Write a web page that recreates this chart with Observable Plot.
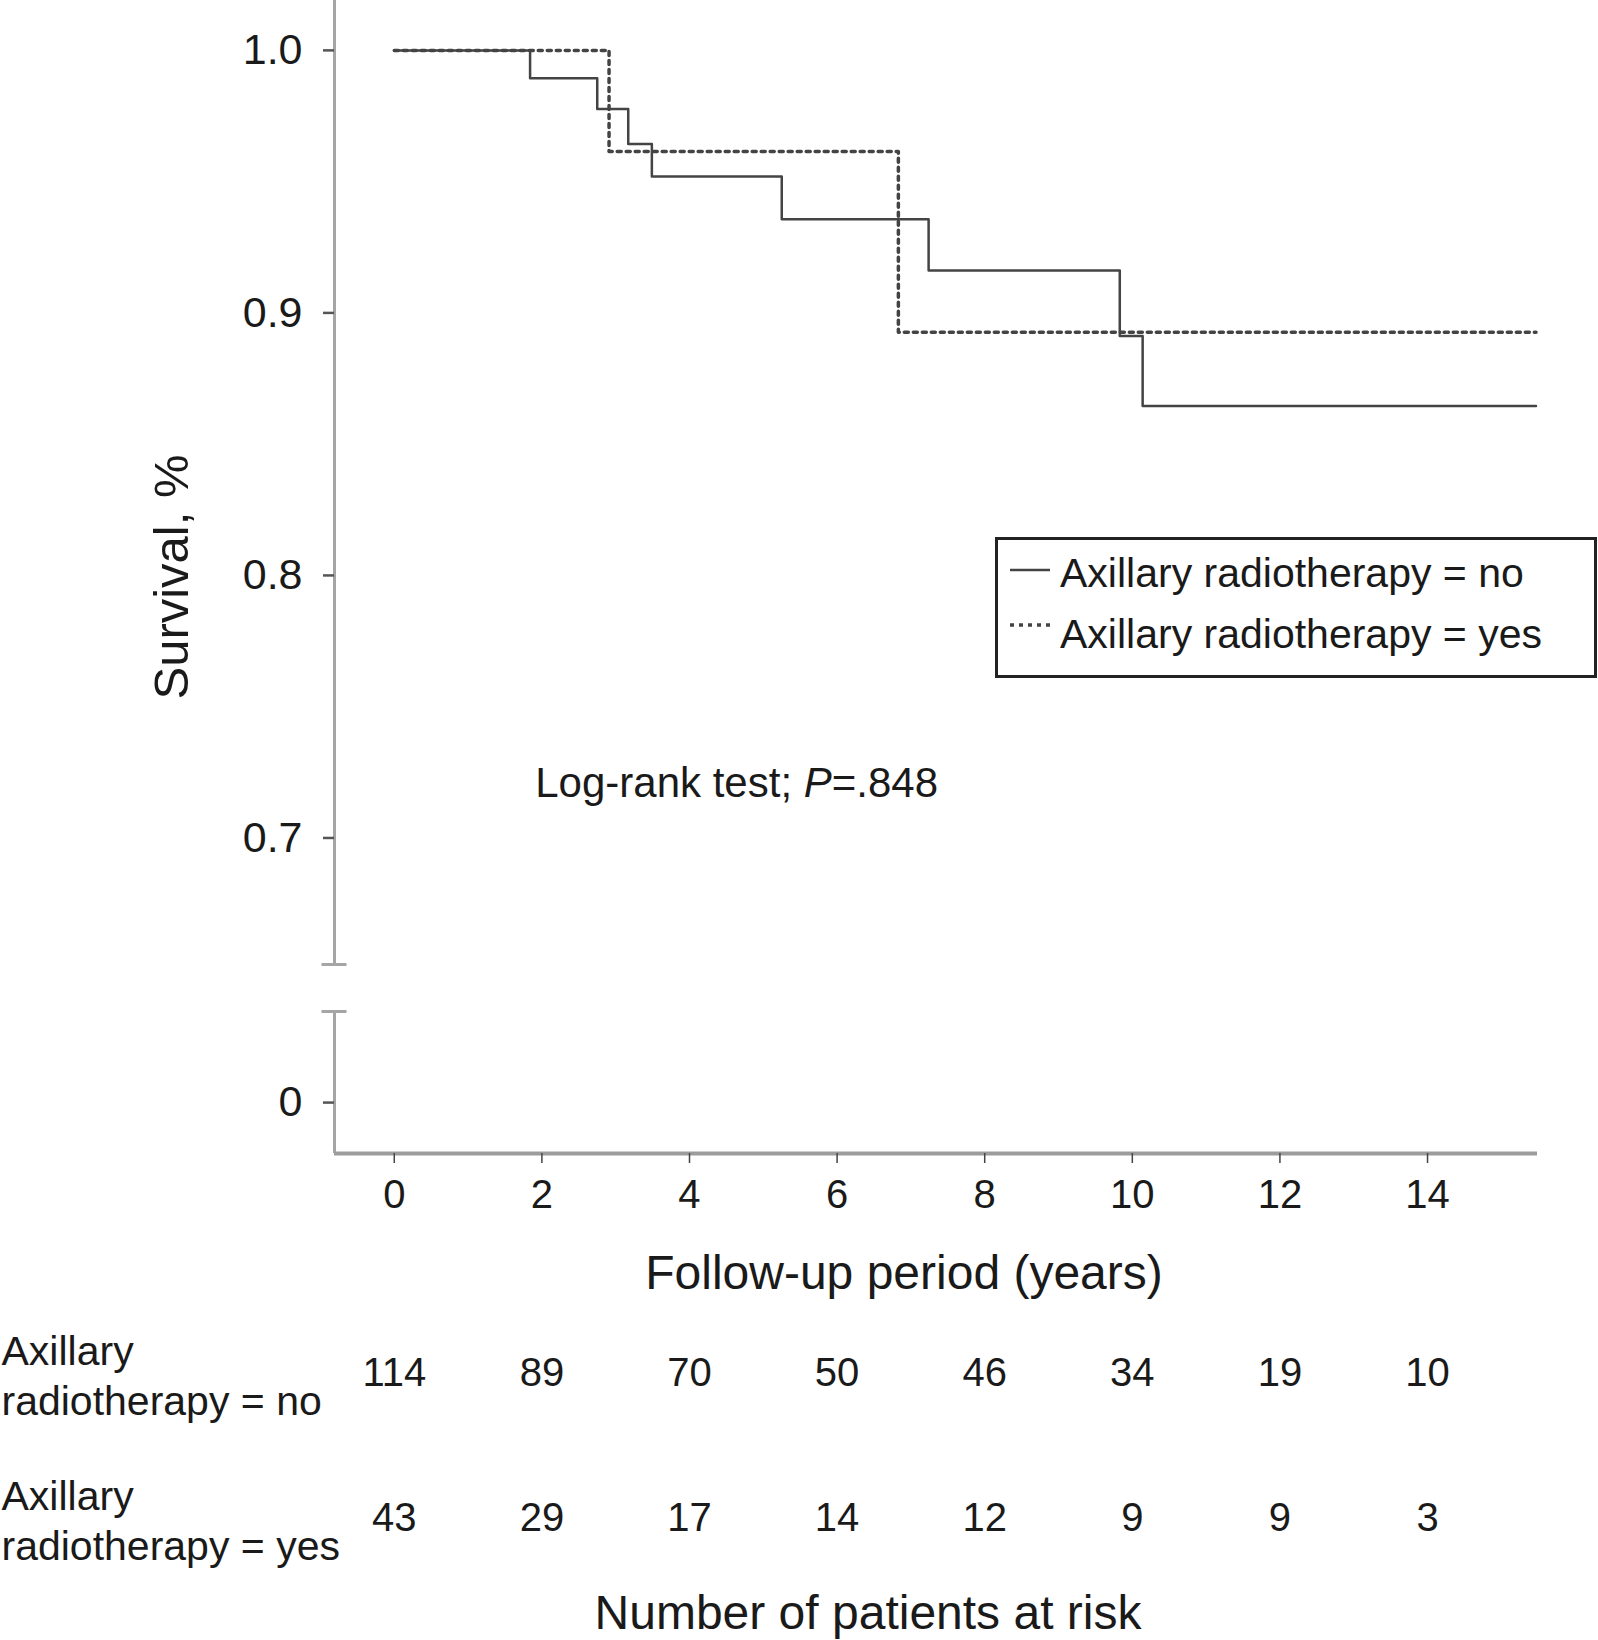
<!DOCTYPE html>
<html>
<head>
<meta charset="utf-8">
<script src="https://cdn.jsdelivr.net/npm/d3@7"></script>
<script src="https://cdn.jsdelivr.net/npm/@observablehq/plot@0.6"></script>
<style>
  body { margin: 0; background: #fff; }
  #chart { position: relative; width: 1598px; height: 1640px; font-family: "Liberation Sans", Arial, Helvetica, sans-serif; }
  #chart svg { display: block; }
  #legend { position: absolute; left: 995px; top: 537px; }
</style>
</head>
<body>
<div id="chart"></div>
<script>
// Kaplan-Meier steps
const noTimes = [0, 1.84, 2.75, 3.17, 3.49, 5.25, 7.24, 9.83, 10.14, 15.47];
const noSurv = [1, 0.9894, 0.9777, 0.9643, 0.952, 0.9357, 0.9162, 0.8912, 0.8645, 0.8645];
const yesTimes = [0, 2.91, 6.83, 15.47];
const yesSurv = [1, 0.9615, 0.8926, 0.8926];

// number at risk
const years = [0, 2, 4, 6, 8, 10, 12, 14];
const atRiskNo = [114, 89, 70, 50, 46, 34, 19, 10];
const atRiskYes = [43, 29, 17, 14, 12, 9, 9, 3];

const yTicks = [0, 0.7, 0.8, 0.9, 1.0];
const groups = ["no", "yes"];
const groupLabels = ["Axillary\nradiotherapy = no", "Axillary\nradiotherapy = yes"];
const legendLabels = ["Axillary radiotherapy = no", "Axillary radiotherapy = yes"];
const logRank = "Log-rank test; P=.848";

// broken y axis: lower piece around 0, upper piece 0.65 - 1.02
const xDomain = [-0.81, 15.49];
const yDomain = [-0.0194, 0.0347, 0.6518, 1.019];
const yRange = [1153, 1011, 964, 0];

const noData = noTimes.map((t, i) => ({t, s: noSurv[i]}));
const yesData = yesTimes.map((t, i) => ({t, s: yesSurv[i]}));
const axisPieces = [[yDomain[3], yDomain[2]], [yDomain[1], yDomain[0]]];
const breakEnds = [yDomain[2], yDomain[1]];

const ink = "#1a1a1a";
const font = "'Liberation Sans', Arial, Helvetica, sans-serif";

const chart = Plot.plot({
  width: 1598,
  height: 1320,
  marginLeft: 334,
  marginRight: 61,
  marginTop: 0,
  marginBottom: 167,
  style: {fontFamily: font, fontSize: "40px", color: ink, background: "white", overflow: "visible"},
  x: {domain: xDomain},
  y: {type: "linear", domain: yDomain, range: yRange},
  marks: [
    Plot.ruleX(axisPieces, {x: () => xDomain[0], y1: d => d[0], y2: d => d[1], stroke: "#a5a5a5", strokeWidth: 3}),
    Plot.ruleY(breakEnds, {x1: () => xDomain[0] - 0.17, x2: () => xDomain[0] + 0.17, stroke: "#a5a5a5", strokeWidth: 3}),
    Plot.ruleY([yDomain[0]], {stroke: "#9c9c9c", strokeWidth: 4}),
    Plot.axisY(yTicks, {tickSize: 11, tickPadding: 21, fontSize: 43, stroke: "#555", strokeWidth: 2.5, fill: ink, label: null,
      tickFormat: d => d === 0 ? "0" : d.toFixed(1)}),
    Plot.axisX(years, {tickSize: 10, tickPadding: 16, fontSize: 40, stroke: "#444", strokeWidth: 1.5, fill: ink, label: null}),
    Plot.line(yesData, {x: "t", y: "s", curve: "step-after", stroke: "#444", strokeWidth: 3.5, strokeDasharray: "4,5"}),
    Plot.line(noData, {x: "t", y: "s", curve: "step-after", stroke: "#444", strokeWidth: 2.5}),
    Plot.text([logRank], {x: () => 1.91, y: () => 0.7208, textAnchor: "start", fontSize: 42, fill: ink}),
    Plot.text(["Survival, %"], {frameAnchor: "left", rotate: -90, dx: -162, textAnchor: "middle", lineAnchor: "middle", fontSize: 49, fill: ink}),
    Plot.text(["Follow-up period (years)"], {frameAnchor: "bottom", dx: -32, dy: 120, textAnchor: "middle", lineAnchor: "middle", fontSize: 48, fill: ink})
  ]
});

// italic P in the log-rank note
d3.select(chart).selectAll("text").filter(function () { return this.textContent === logRank; })
  .each(function () {
    const t = d3.select(this).text(null).attr("xml:space", "preserve");
    t.append("tspan").text("Log-rank test; ");
    t.append("tspan").attr("font-style", "italic").text("P");
    t.append("tspan").text("=.848");
  });

const riskRows = years.flatMap((t, i) => [
  {t, g: "no", n: atRiskNo[i]},
  {t, g: "yes", n: atRiskYes[i]}
]);

const table = Plot.plot({
  width: 1598,
  height: 320,
  marginLeft: 334,
  marginRight: 61,
  marginTop: 0,
  marginBottom: 0,
  style: {fontFamily: font, fontSize: "40px", color: ink, background: "white", overflow: "visible"},
  x: {domain: xDomain, axis: null},
  y: {type: "point", domain: groups, range: [53, 198], padding: 0, axis: null},
  marks: [
    Plot.text(riskRows, {x: "t", y: "g", text: "n", fontSize: 40, fill: ink}),
    Plot.text(groups, {y: d => d, text: (d, i) => groupLabels[i], frameAnchor: "left", dx: -333, textAnchor: "start", lineAnchor: "middle", lineHeight: 1.22, fontSize: 41, fill: ink}),
    Plot.text(["Number of patients at risk"], {frameAnchor: "bottom", dx: -68, dy: -27, textAnchor: "middle", lineAnchor: "middle", fontSize: 48, fill: ink})
  ]
});

const root = document.getElementById("chart");
root.append(chart, table);

// legend box over the plot
const legend = d3.select(root).append("svg").attr("id", "legend")
  .attr("width", 604).attr("height", 143)
  .style("font-family", font);
legend.append("rect").attr("x", 1.5).attr("y", 1.5).attr("width", 599).attr("height", 138)
  .attr("fill", "white").attr("stroke", "#222").attr("stroke-width", 3);
const styles = [{stroke: "#444", w: 2.5, dash: null}, {stroke: "#444", w: 3.5, dash: "4,5"}];
const sampleY = [33, 88];
const textY = [50, 111];
legendLabels.forEach((label, i) => {
  legend.append("line").attr("x1", 15).attr("x2", 55).attr("y1", sampleY[i]).attr("y2", sampleY[i])
    .attr("stroke", styles[i].stroke).attr("stroke-width", styles[i].w).attr("stroke-dasharray", styles[i].dash);
  legend.append("text").attr("x", 65).attr("y", textY[i]).attr("font-size", 41).attr("fill", ink).text(label);
});
</script>
</body>
</html>
